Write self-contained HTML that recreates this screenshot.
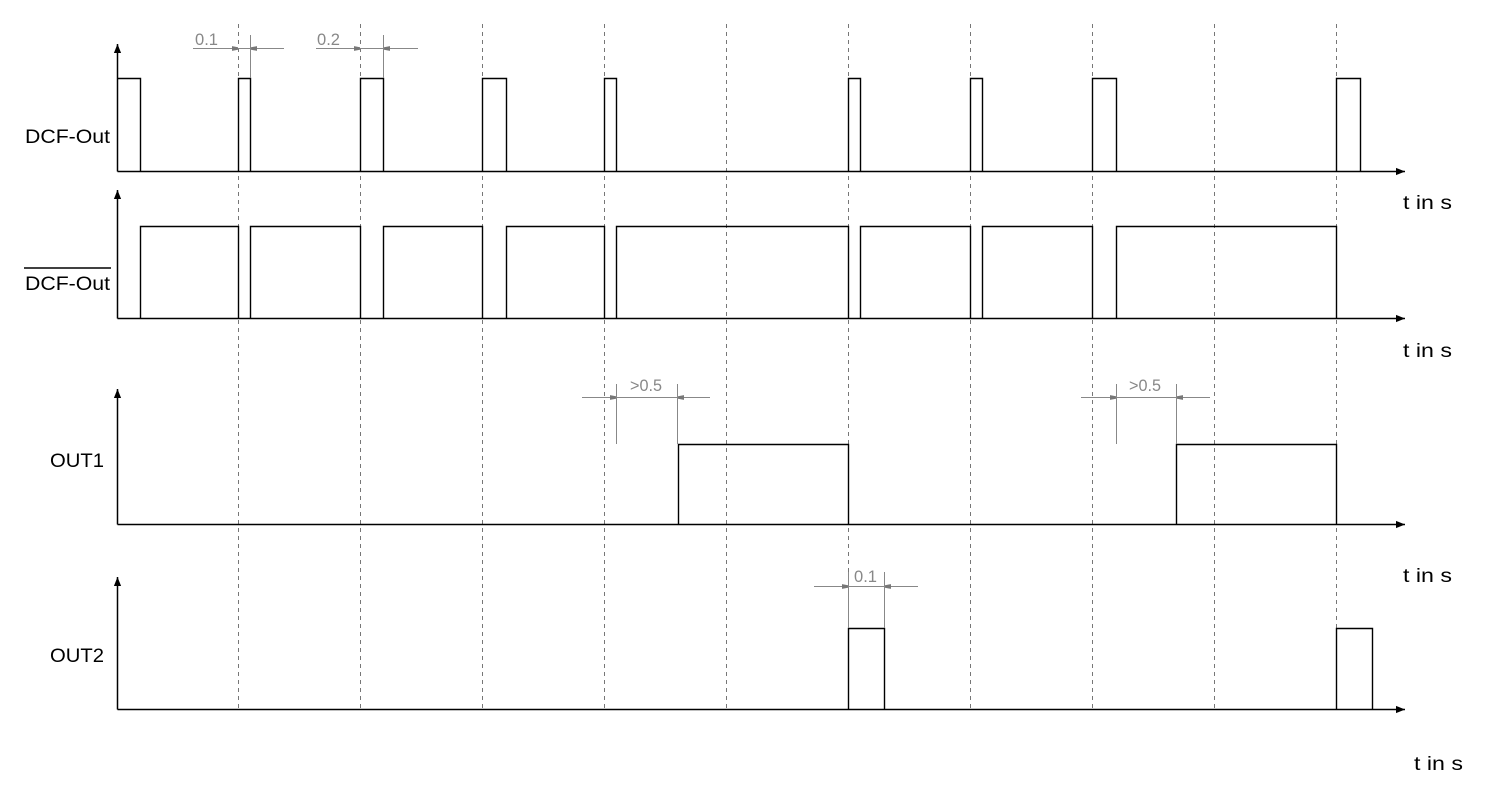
<!DOCTYPE html>
<html><head><meta charset="utf-8"><style>html,body{margin:0;padding:0;background:#fff}svg{display:block}</style></head>
<body>
<svg width="1486" height="799" viewBox="0 0 1486 799" xmlns="http://www.w3.org/2000/svg" font-family="Liberation Sans, Arial, sans-serif">
<defs>
<marker id="ah" viewBox="0 0 10 10" refX="10" refY="5" markerWidth="16" markerHeight="9" markerUnits="userSpaceOnUse" orient="auto"><path d="M0,1 L10,5 L0,9 z" fill="#000"/></marker>
<marker id="ga" viewBox="0 0 10 10" refX="10" refY="5" markerWidth="12" markerHeight="6" markerUnits="userSpaceOnUse" orient="auto"><path d="M0,1 L10,3 L10,7 L0,9 z" fill="#777"/></marker>
</defs>
<g stroke="#777" stroke-width="1" stroke-dasharray="4,4">
<line x1="238.5" y1="24" x2="238.5" y2="709"/>
<line x1="360.5" y1="24" x2="360.5" y2="709"/>
<line x1="482.5" y1="24" x2="482.5" y2="709"/>
<line x1="604.5" y1="24" x2="604.5" y2="709"/>
<line x1="726.5" y1="24" x2="726.5" y2="709"/>
<line x1="848.5" y1="24" x2="848.5" y2="709"/>
<line x1="970.5" y1="24" x2="970.5" y2="709"/>
<line x1="1092.5" y1="24" x2="1092.5" y2="709"/>
<line x1="1214.5" y1="24" x2="1214.5" y2="709"/>
<line x1="1336.5" y1="24" x2="1336.5" y2="709"/>
</g>
<g stroke="#000" stroke-width="1.5" fill="none">
<line x1="117.5" y1="171.5" x2="117.5" y2="44" marker-end="url(#ah)"/>
<line x1="117.5" y1="171.5" x2="1405" y2="171.5" marker-end="url(#ah)"/>
<line x1="117.5" y1="318.5" x2="117.5" y2="190" marker-end="url(#ah)"/>
<line x1="117.5" y1="318.5" x2="1405" y2="318.5" marker-end="url(#ah)"/>
<line x1="117.5" y1="524.5" x2="117.5" y2="389" marker-end="url(#ah)"/>
<line x1="117.5" y1="524.5" x2="1405" y2="524.5" marker-end="url(#ah)"/>
<line x1="117.5" y1="709.5" x2="117.5" y2="577" marker-end="url(#ah)"/>
<line x1="117.5" y1="709.5" x2="1405" y2="709.5" marker-end="url(#ah)"/>
</g>
<g stroke="#000" stroke-width="1.4" fill="none">
<path d="M117.5,78.5 H140.5 V171.5 M238.5,171.5 V78.5 H250.5 V171.5 M360.5,171.5 V78.5 H383.5 V171.5 M482.5,171.5 V78.5 H506.5 V171.5 M604.5,171.5 V78.5 H616.5 V171.5 M848.5,171.5 V78.5 H860.5 V171.5 M970.5,171.5 V78.5 H982.5 V171.5 M1092.5,171.5 V78.5 H1116.5 V171.5 M1336.5,171.5 V78.5 H1360.5 V171.5"/>
<path d="M140.5,318.5 V226.5 H238.5 V318.5 M250.5,318.5 V226.5 H360.5 V318.5 M383.5,318.5 V226.5 H482.5 V318.5 M506.5,318.5 V226.5 H604.5 V318.5 M616.5,318.5 V226.5 H848.5 V318.5 M860.5,318.5 V226.5 H970.5 V318.5 M982.5,318.5 V226.5 H1092.5 V318.5 M1116.5,318.5 V226.5 H1336.5 V318.5"/>
<path d="M678.5,524.5 V444.5 H848.5 V524.5 M1176.5,524.5 V444.5 H1336.5 V524.5"/>
<path d="M848.5,709.5 V628.5 H884.5 V709.5 M1336.5,709.5 V628.5 H1372.5 V709.5"/>
</g>
<g stroke="#888" stroke-width="1" fill="none">
<line x1="193" y1="48.5" x2="238" y2="48.5" marker-end="url(#ga)"/>
<line x1="284" y1="48.5" x2="251" y2="48.5" marker-end="url(#ga)"/>
<line x1="238" y1="48.5" x2="251" y2="48.5"/>
<line x1="250.5" y1="35" x2="250.5" y2="78"/>
<line x1="316" y1="48.5" x2="360" y2="48.5" marker-end="url(#ga)"/>
<line x1="418" y1="48.5" x2="384" y2="48.5" marker-end="url(#ga)"/>
<line x1="360" y1="48.5" x2="384" y2="48.5"/>
<line x1="383.5" y1="35" x2="383.5" y2="78"/>
<line x1="582" y1="397.5" x2="616" y2="397.5" marker-end="url(#ga)"/>
<line x1="710" y1="397.5" x2="678" y2="397.5" marker-end="url(#ga)"/>
<line x1="616" y1="397.5" x2="678" y2="397.5"/>
<line x1="616.5" y1="384" x2="616.5" y2="444"/>
<line x1="677.5" y1="384" x2="677.5" y2="444"/>
<line x1="1081" y1="397.5" x2="1116" y2="397.5" marker-end="url(#ga)"/>
<line x1="1210" y1="397.5" x2="1177" y2="397.5" marker-end="url(#ga)"/>
<line x1="1116" y1="397.5" x2="1177" y2="397.5"/>
<line x1="1116.5" y1="384" x2="1116.5" y2="444"/>
<line x1="1176.5" y1="384" x2="1176.5" y2="444"/>
<line x1="814" y1="586.5" x2="848" y2="586.5" marker-end="url(#ga)"/>
<line x1="918" y1="586.5" x2="885" y2="586.5" marker-end="url(#ga)"/>
<line x1="848" y1="586.5" x2="885" y2="586.5"/>
<line x1="848.5" y1="572" x2="848.5" y2="628"/>
<line x1="884.5" y1="572" x2="884.5" y2="628"/>
</g>
<g fill="#888" font-size="17">
<text x="195" y="45" textLength="23" lengthAdjust="spacingAndGlyphs">0.1</text>
<text x="317" y="45" textLength="23" lengthAdjust="spacingAndGlyphs">0.2</text>
<text x="630" y="391" textLength="32" lengthAdjust="spacingAndGlyphs">&gt;0.5</text>
<text x="1129" y="391" textLength="32" lengthAdjust="spacingAndGlyphs">&gt;0.5</text>
<text x="854" y="582" textLength="23" lengthAdjust="spacingAndGlyphs">0.1</text>
</g>
<g fill="#000" font-size="19">
<text x="25" y="143" textLength="85" lengthAdjust="spacingAndGlyphs">DCF-Out</text>
<text x="25" y="290" textLength="85" lengthAdjust="spacingAndGlyphs">DCF-Out</text>
<text x="50" y="467" textLength="54" lengthAdjust="spacingAndGlyphs">OUT1</text>
<text x="50" y="662" textLength="54" lengthAdjust="spacingAndGlyphs">OUT2</text>
<text x="1403" y="209" textLength="49" lengthAdjust="spacingAndGlyphs">t in s</text>
<text x="1403" y="357" textLength="49" lengthAdjust="spacingAndGlyphs">t in s</text>
<text x="1403" y="582" textLength="49" lengthAdjust="spacingAndGlyphs">t in s</text>
<text x="1414" y="770" textLength="49" lengthAdjust="spacingAndGlyphs">t in s</text>
</g>
<line x1="24" y1="268" x2="111" y2="268" stroke="#000" stroke-width="1.5"/>
</svg>
</body></html>
